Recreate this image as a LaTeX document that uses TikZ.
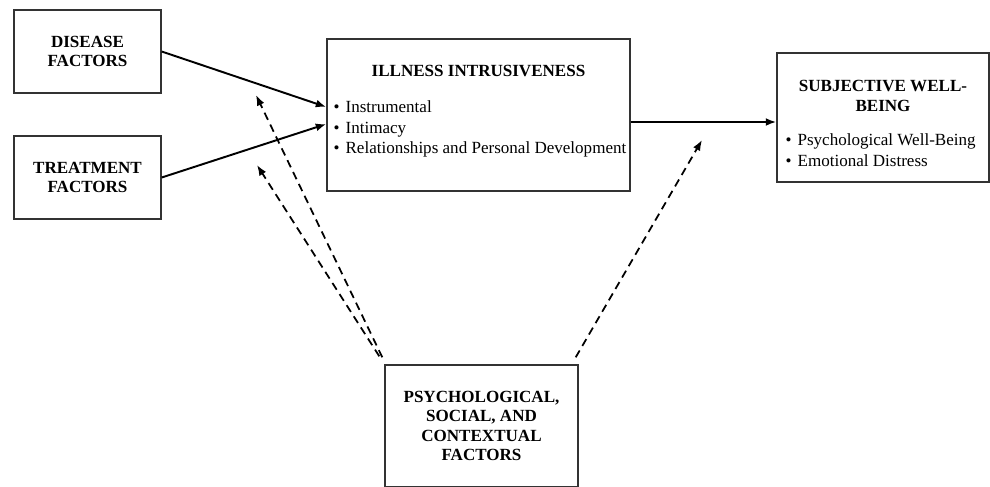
\documentclass[tikz,border=0pt]{standalone}
\usepackage{fontspec}
\setmainfont{Liberation Serif}
\usepackage{tikz}
\usetikzlibrary{arrows,arrows.meta,shapes,positioning}

\begin{document}
\begin{tikzpicture} [
		auto,
		font=\fontsize{9.7}{11}\selectfont,
		>={Latex[length=6pt,width=4.5pt]},
		block/.style    = { rectangle, draw=black!80, line width=0.8pt,
			align=center, font=\fontsize{9.7}{10.4}\selectfont\bfseries },
		title/.style    = { align=center, inner sep=0pt,
			font=\fontsize{9.7}{11.3}\selectfont\bfseries },
		items/.style    = { align=left, inner sep=0pt,
			font=\fontsize{9.7}{11.8}\selectfont },
		line/.style     = { draw, line width=1.1pt, -> },
		dashline/.style = { draw, line width=1pt, ->,
			dash pattern=on 4.5pt off 3pt },
	]
	\useasboundingbox (0,0) rectangle (19.8,-9.72);
	% Define nodes
	\begin{scope}
		\node [block, minimum width=2.94cm, minimum height=1.66cm] (disease) at (1.75,-1.03) {DISEASE\\FACTORS};
		\node [block, minimum width=2.94cm, minimum height=1.66cm] (treatment) at (1.75,-3.55) {TREATMENT\\FACTORS};
		\node [block, minimum width=6.06cm, minimum height=3.04cm] (illness) at (9.57,-2.30) {};
		\node [title, below=0.54cm of illness.north] (illnessTitle) {ILLNESS INTRUSIVENESS};
		\node [items, anchor=west] (illnessList) at ([xshift=0.14cm,yshift=-0.28cm]illness.west)
			{\textbullet\hspace{0.35em}Instrumental\\\textbullet\hspace{0.35em}Intimacy\\\textbullet\hspace{0.35em}Relationships and Personal Development};
		\node [block, minimum width=4.24cm, minimum height=2.58cm] (wellbeing) at (17.66,-2.35) {};
		\node [title, below=0.55cm of wellbeing.north] (wellbeingTitle) {SUBJECTIVE WELL-\\BEING};
		\node [items, anchor=west] (wellbeingList) at ([xshift=0.18cm,yshift=-0.66cm]wellbeing.west)
			{\textbullet\hspace{0.35em}Psychological Well-Being\\\textbullet\hspace{0.35em}Emotional Distress};
		\node [block, minimum width=3.86cm, minimum height=2.44cm, font=\fontsize{9.7}{11.1}\selectfont\bfseries] (psych) at (9.63,-8.52)
			{PSYCHOLOGICAL,\\SOCIAL, AND\\CONTEXTUAL\\FACTORS};
		\coordinate (toDisease) at (5.12,-1.90);
		\coordinate (toTreatment) at (5.14,-3.30);
		\coordinate (toOutcome) at (14.04,-2.80);
	\end{scope}
	% connect all nodes defined above
	\begin{scope} [every path/.style=line]
		\path (disease.east) -- ([yshift=0.16cm]illness.west);
		\path (treatment.east) -- ([yshift=-0.18cm]illness.west);
		\path ([yshift=-0.14cm]illness.east) coordinate (illOut) -- (illOut -| wellbeing.west);
	\end{scope}
	\begin{scope} [every path/.style=dashline]
		\path ([shift={(-0.04,0.14)}]psych.north west) -- (toDisease);
		\path ([shift={(-0.10,0.16)}]psych.north west) -- (toTreatment);
		\path ([shift={(-0.06,0.14)}]psych.north east) -- (toOutcome);
	\end{scope}
\end{tikzpicture}
\end{document}
